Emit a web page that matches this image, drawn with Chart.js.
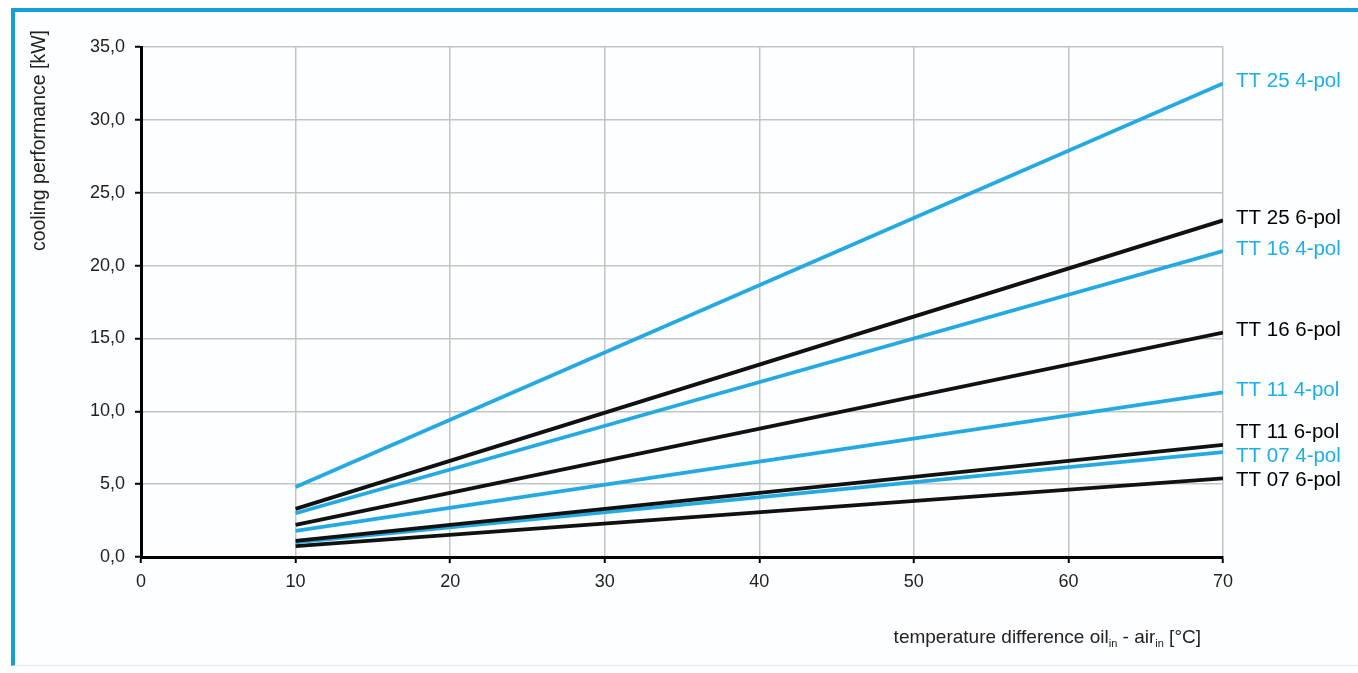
<!DOCTYPE html>
<html>
<head>
<meta charset="utf-8">
<script src="https://cdn.jsdelivr.net/npm/chart.js@4.4.1/dist/chart.umd.min.js"></script>
<style>
    html, body { margin: 0; padding: 0; background: #fff; }
    body { width: 1358px; height: 673px; position: relative; overflow: hidden; }
    .frame {
        position: absolute; left: 11px; top: 8px; right: 0; bottom: 7px;
        border-top: 4px solid #13a0d8; border-left: 4px solid #13a0d8;
        border-bottom: 1px solid #dfe9ef; background: #fdfeff;
    }
    #coolingChart { position: absolute; left: 0; top: 0; }
</style>
</head>
<body>
<div class="frame"></div>
<canvas id="coolingChart" width="1358" height="673"></canvas>
<script>
// temperature difference oil_in - air_in [°C]
const tempDiff = [10, 70];

const seriesNames = ['TT 25 4-pol', 'TT 25 6-pol', 'TT 16 4-pol', 'TT 16 6-pol',
                     'TT 11 4-pol', 'TT 11 6-pol', 'TT 07 4-pol', 'TT 07 6-pol'];

// cooling performance [kW]
const tt25_4pol = [4.8, 32.5];
const tt25_6pol = [3.3, 23.1];
const tt16_4pol = [3.0, 21.0];
const tt16_6pol = [2.2, 15.4];
const tt11_4pol = [1.8, 11.3];
const tt11_6pol = [1.1, 7.7];
const tt07_4pol = [1.0, 7.2];
const tt07_6pol = [0.75, 5.4];

const xTicks = [0, 10, 20, 30, 40, 50, 60, 70];
const yTicks = [0, 5, 10, 15, 20, 25, 30, 35];

const BLUE = '#25a9e1';
const BLACK = '#111111';
const FONT = '"Liberation Sans", Arial, Helvetica, sans-serif';

const allSeries = [tt25_4pol, tt25_6pol, tt16_4pol, tt16_6pol, tt11_4pol, tt11_6pol, tt07_4pol, tt07_6pol];

const datasets = allSeries.map((values, i) => ({
    label: seriesNames[i],
    data: values.map((v, j) => ({ x: tempDiff[j], y: v })),
    borderColor: seriesNames[i].includes('4-pol') ? BLUE : BLACK,
    borderWidth: 3.8,
    pointRadius: 0,
    fill: false
}));

// labels at the right end of each line, pushed apart where they would overlap
const endLabels = {
    id: 'endLabels',
    afterDatasetsDraw(chart) {
        const ctx = chart.ctx;
        const items = chart.data.datasets.map((ds, i) => {
            const pts = chart.getDatasetMeta(i).data;
            return { text: ds.label, color: ds.borderColor === BLUE ? '#1daee8' : '#000', y: pts[pts.length - 1].y - 2 };
        }).sort((a, b) => a.y - b.y);

        const gap = 24;
        for (let k = 0; k < 20; k++) {
            for (let i = 1; i < items.length; i++) {
                const d = items[i].y - items[i - 1].y;
                if (d < gap) {
                    items[i].y += (gap - d) / 2;
                    items[i - 1].y -= (gap - d) / 2;
                }
            }
        }

        ctx.save();
        ctx.font = '20.5px ' + FONT;
        ctx.textBaseline = 'middle';
        ctx.textAlign = 'left';
        items.forEach(it => {
            ctx.fillStyle = it.color;
            ctx.fillText(it.text, chart.chartArea.right + 13, it.y);
        });
        ctx.restore();
    }
};

// axis titles (the x title needs subscripts)
const axisTitles = {
    id: 'axisTitles',
    afterDraw(chart) {
        const ctx = chart.ctx;
        ctx.save();
        ctx.fillStyle = '#222';

        ctx.font = '19.5px ' + FONT;
        ctx.translate(40, 30);
        ctx.rotate(-Math.PI / 2);
        ctx.textAlign = 'right';
        ctx.textBaseline = 'middle';
        ctx.fillText('cooling performance [kW]', 0, 0);
        ctx.setTransform(1, 0, 0, 1, 0, 0);

        const parts = [
            ['temperature difference oil', false],
            ['in', true],
            [' - air', false],
            ['in', true],
            [' [°C]', false]
        ];
        const mainFont = '19px ' + FONT;
        const subFont = '11px ' + FONT;
        let total = 0;
        parts.forEach(p => {
            ctx.font = p[1] ? subFont : mainFont;
            total += ctx.measureText(p[0]).width;
        });
        let x = chart.chartArea.right - 22 - total;
        const baseY = 643;
        ctx.textAlign = 'left';
        ctx.textBaseline = 'alphabetic';
        parts.forEach(p => {
            ctx.font = p[1] ? subFont : mainFont;
            ctx.fillText(p[0], x, p[1] ? baseY + 4 : baseY);
            x += ctx.measureText(p[0]).width;
        });
        ctx.restore();
    }
};

new Chart(document.getElementById('coolingChart').getContext('2d'), {
    type: 'line',
    data: { datasets: datasets },
    options: {
        responsive: false,
        animation: false,
        devicePixelRatio: 1,
        layout: { padding: { left: 0, right: 135, top: 47, bottom: 0 } },
        plugins: {
            legend: { display: false },
            title: { display: false },
            tooltip: { enabled: false }
        },
        scales: {
            x: {
                type: 'linear',
                min: 0,
                max: 70,
                afterBuildTicks: scale => { scale.ticks = xTicks.map(v => ({ value: v })); },
                afterFit: scale => { scale.height = 116; },
                ticks: {
                    font: { size: 18, family: FONT },
                    color: '#222',
                    padding: 8
                },
                grid: {
                    color: '#c4c4c4',
                    lineWidth: 1.5,
                    tickColor: '#000',
                    tickLength: 6,
                    tickWidth: 2
                },
                border: { color: '#000', width: 3 }
            },
            y: {
                min: 0,
                max: 35,
                afterBuildTicks: scale => { scale.ticks = yTicks.map(v => ({ value: v })); },
                afterFit: scale => { scale.width = 141; },
                ticks: {
                    font: { size: 18, family: FONT },
                    color: '#222',
                    padding: 10,
                    callback: v => v.toFixed(1).replace('.', ',')
                },
                grid: {
                    color: '#c4c4c4',
                    lineWidth: 1.5,
                    tickColor: '#000',
                    tickLength: 6,
                    tickWidth: 2
                },
                border: { color: '#000', width: 3 }
            }
        }
    },
    plugins: [endLabels, axisTitles]
});
</script>
</body>
</html>
